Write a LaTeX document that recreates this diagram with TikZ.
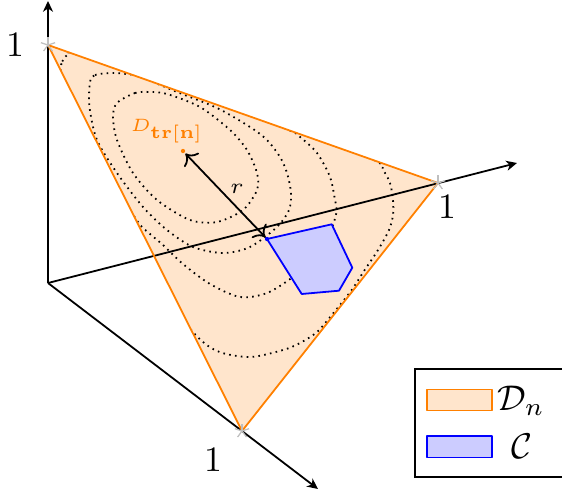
\documentclass[tikz,border=0pt]{standalone}
\usetikzlibrary{arrows.meta}
\begin{document}
\begin{tikzpicture}[x=0.28pt,y=-0.28pt,
  axis/.style={line width=0.5pt,-{Stealth[length=3pt,width=2.8pt,inset=0.9pt]}},
  edge/.style={draw=orange,line width=0.5pt,line join=round},
  contour/.style={line width=0.5pt,dash pattern=on 0.45pt off 1.2pt},
  region/.style={draw=blue,fill=blue!20,line width=0.5pt,line join=round},
  vmark/.style={draw=black!25,line width=0.35pt},
  lab/.style={inner sep=0pt},
  legbox/.style={line width=0.5pt},
]
\useasboundingbox (0,0) rectangle (562,495);
% points
\coordinate (O) at (48,283);
\coordinate (A) at (48,45);
\coordinate (B) at (438,183);
\coordinate (C) at (242,431);
\coordinate (Ytip) at (48,1);
\coordinate (Xtip) at (517,163);
\coordinate (Ztip) at (318,489);
\coordinate (D) at (183,151);
\coordinate (P1) at (267,239);
\coordinate (P2) at (331.7,224.3);
\coordinate (P3) at (352.3,267.7);
\coordinate (P4) at (339,290.7);
\coordinate (P5) at (301.7,294);
% simplex fill
\fill[orange!20] (A) -- (B) -- (C) -- cycle;
% contours
\begin{scope}
\clip (A) -- (B) -- (C) -- cycle;
\draw[contour] plot[smooth cycle] coordinates {(117,103) (135,93) (150,92) (167,94) (200,107) (230,130) (247,150) (257,173) (257,190) (243,210) (217,222) (190,220) (157,200) (133,173) (117,140) (113,117)};
\draw[contour] plot[smooth cycle] coordinates {(90,82) (95,75) (111,73) (127,74) (141,77) (177,92) (217,108) (250,127) (267,140) (280,157) (287,173) (291,193) (289,210) (277,227) (250,247) (223,253) (193,247) (167,230) (143,207) (117,173) (97,140) (89.5,107)};
\draw[contour] plot[smooth cycle] coordinates {(60.5,69) (62.3,61.5) (65.5,56.5) (69,54) (73,53) (130,67) (210,96) (290,130.6) (300,137) (317,153) (330,177) (335,200) (336.5,212) (330,233) (317,257) (293,277) (267,293) (240,297) (210,284) (183,264) (163,245) (150,234) (138,222) (115,185) (88,130) (63,80)};
\draw[contour] plot[smooth cycle] coordinates {(40,40) (150,70) (270,115) (373,159.5) (383,170) (390,183) (393,200) (393,215) (389,230) (378,250) (364,271) (351,291) (331,316) (317,332) (300,343) (283,350) (250,357) (217,351) (192,331) (150,275) (100,185) (50,90)};
\end{scope}
% axes
\draw[axis] (O) -- (Ytip);
\draw[axis] (O) -- (Xtip);
\draw[axis] (O) -- (Ztip);
% simplex edges
\draw[edge] (A) -- (B) -- (C) -- cycle;
% constraint set
\draw[region] (P1) -- (P2) -- (P3) -- (P4) -- (P5) -- cycle;
% vertex marks
\foreach \v in {A,B,C}{
  \foreach \ang in {18,90,162,234,306}{
    \draw[vmark] (\v) -- ++(\ang:2.1pt);
  }
}
% radius arrow
\draw[line width=0.5pt,<->,shorten <=1pt,shorten >=0.7pt] (D) -- (P1);
\fill[orange] (D) circle[radius=0.6pt];
\fill[blue] (P1) circle[radius=0.6pt];
% labels
\node[lab] (l1) at (15,45) {$1$};
\node[lab] (l2) at (447,207) {$1$};
\node[lab] (l3) at (213,460) {$1$};
\node[lab,text=orange] (ld) at (167,131) {\tiny$D_{\mathbf{tr}[\mathbf{n}]}$};
\node[lab] (lr) at (237,189) {\fontsize{6}{7}\selectfont$r$};
% legend
\draw[legbox] (415,369) rectangle (565,477);
\draw[edge,fill=orange!20] (427,389.5) rectangle (491.7,410.5);
\draw[region] (427,436) rectangle (491.7,457.5);
\node[lab] (lgd) at (521,401) {$\mathcal{D}_n$};
\node[lab] (lgc) at (522,446) {$\mathcal{C}$};
\end{tikzpicture}
\end{document}
